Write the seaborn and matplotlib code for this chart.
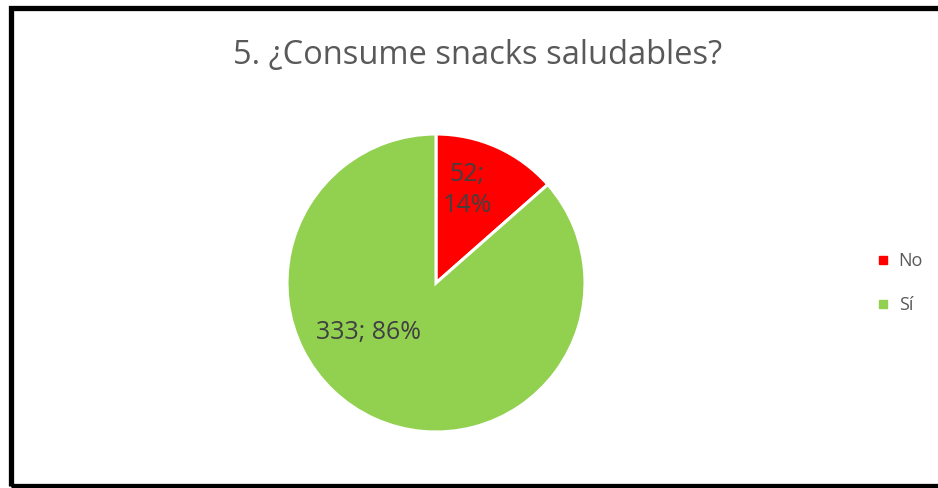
import matplotlib
matplotlib.use("Agg")
import matplotlib.pyplot as plt
import seaborn as sns
from matplotlib.patches import Rectangle
from matplotlib.lines import Line2D

categories = ["No", "Sí"]
values = [52, 333]
colors = ["#FF0000", "#92D050"]
title = "5. ¿Consume snacks saludables?"

sns.set_theme(style="white")
plt.rcParams["font.family"] = ["Open Sans", "DejaVu Sans"]

W, H = 938, 488
fig = plt.figure(figsize=(W / 100, H / 100), dpi=100)
fig.patch.set_facecolor("white")

# border (left, top, bottom; right side cut off)
fig.add_artist(Rectangle((10.5 / W, 1 - 485.5 / H), (W + 20) / W, (485.5 - 7.5) / H,
                         transform=fig.transFigure, fill=False, edgecolor="black", linewidth=3.8))

cx, cy, r = 436, 283, 149
ax = fig.add_axes([(cx - r) / W, 1 - (cy + r) / H, 2 * r / W, 2 * r / H])
wedges, _ = ax.pie(values, colors=colors, startangle=90, counterclock=False,
                   wedgeprops=dict(edgecolor="white", linewidth=2.2), radius=1)
ax.set_xlim(-1, 1)
ax.set_ylim(-1, 1)
ax.set_aspect("equal")
ax.axis("off")

total = sum(values)
pcts = [round(v / total * 100) for v in values]
label_pos = [(0.21, 0.625), (-0.45, -0.33)]
label_txt = [f"{values[0]};\n{pcts[0]}%", f"{values[1]}; {pcts[1]}%"]
for (x, y), t in zip(label_pos, label_txt):
    ax.text(x, y, t, ha="center", va="center", fontsize=18, color="#404040",
            linespacing=1.35)

fig.text(478 / W, 1 - 55 / H, title, ha="center", va="center", fontsize=23.5, color="#595959")

handles = [Line2D([0], [0], marker="s", linestyle="none", markersize=6,
                  markerfacecolor=c, markeredgecolor=c) for c in colors]
fig.legend(handles, categories, loc="center left", bbox_to_anchor=(858 / W, 1 - 283 / H),
           frameon=False, fontsize=13, labelcolor="#595959", handletextpad=0.35,
           labelspacing=1.45, handlelength=1.0)

fig.savefig("out.png", dpi=100)
